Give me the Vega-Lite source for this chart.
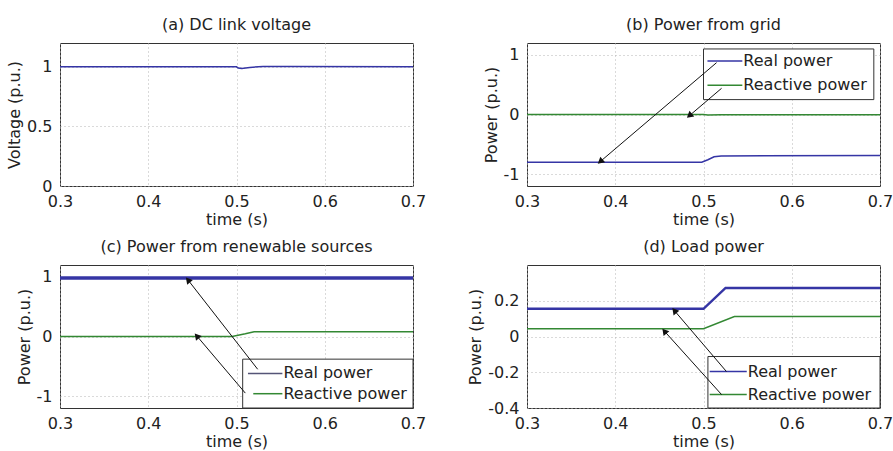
{
  "$schema": "https://vega.github.io/schema/vega-lite/v6.json",
  "background": "white",
  "padding": {"left": 6, "top": 16, "right": 0, "bottom": 0},
  "datasets": {
    "a_line": [
      {"x": 0.3, "y": 1.0}, {"x": 0.5, "y": 1.0}, {"x": 0.502, "y": 0.99}, {"x": 0.506, "y": 0.986},
      {"x": 0.515, "y": 0.995}, {"x": 0.53, "y": 1.003}, {"x": 0.56, "y": 1.002}, {"x": 0.7, "y": 1.0}
    ],
    "b_line": [
      {"s": "Real power", "x": 0.3, "y": -0.8}, {"s": "Real power", "x": 0.498, "y": -0.8},
      {"s": "Real power", "x": 0.505, "y": -0.76}, {"s": "Real power", "x": 0.512, "y": -0.71},
      {"s": "Real power", "x": 0.52, "y": -0.695}, {"s": "Real power", "x": 0.7, "y": -0.69},
      {"s": "Reactive power", "x": 0.3, "y": 0.0}, {"s": "Reactive power", "x": 0.5, "y": 0.0},
      {"s": "Reactive power", "x": 0.505, "y": -0.01}, {"s": "Reactive power", "x": 0.52, "y": -0.005},
      {"s": "Reactive power", "x": 0.7, "y": -0.005}
    ],
    "b_box": [{"x": 0.5, "x2": 0.693, "y": 1.1, "y2": 0.25}],
    "b_leg": [
      {"s": "Real power", "x": 0.5045, "x2": 0.544, "y": 0.9},
      {"s": "Reactive power", "x": 0.5045, "x2": 0.544, "y": 0.49}
    ],
    "b_arrow": [
      {"s": "Real power", "x": 0.5148, "y": 0.87, "x2": 0.383, "y2": -0.79},
      {"s": "Reactive power", "x": 0.5205, "y": 0.44, "x2": 0.484, "y2": -0.02}
    ],
    "c_line": [
      {"s": "Real power", "x": 0.3, "y": 0.98}, {"s": "Real power", "x": 0.7, "y": 0.98},
      {"s": "Reactive power", "x": 0.3, "y": 0.0}, {"s": "Reactive power", "x": 0.495, "y": 0.0},
      {"s": "Reactive power", "x": 0.51, "y": 0.045}, {"s": "Reactive power", "x": 0.52, "y": 0.08},
      {"s": "Reactive power", "x": 0.7, "y": 0.08}
    ],
    "c_box": [{"x": 0.507, "x2": 0.7, "y": -0.38, "y2": -1.2}],
    "c_leg": [
      {"s": "Real power", "x": 0.513, "x2": 0.552, "y": -0.62},
      {"s": "Reactive power", "x": 0.519, "x2": 0.552, "y": -0.96}
    ],
    "c_arrow": [
      {"s": "Real power", "x": 0.524, "y": -0.55, "x2": 0.445, "y2": 0.95},
      {"s": "Reactive power", "x": 0.51, "y": -0.95, "x2": 0.455, "y2": 0.01}
    ],
    "d_line": [
      {"s": "Real power", "x": 0.3, "y": 0.155}, {"s": "Real power", "x": 0.5, "y": 0.155},
      {"s": "Real power", "x": 0.525, "y": 0.272}, {"s": "Real power", "x": 0.7, "y": 0.272},
      {"s": "Reactive power", "x": 0.3, "y": 0.043}, {"s": "Reactive power", "x": 0.5, "y": 0.043},
      {"s": "Reactive power", "x": 0.535, "y": 0.112}, {"s": "Reactive power", "x": 0.7, "y": 0.112}
    ],
    "d_box": [{"x": 0.505, "x2": 0.7, "y": -0.112, "y2": -0.4}],
    "d_leg": [
      {"s": "Real power", "x": 0.507, "x2": 0.549, "y": -0.196},
      {"s": "Reactive power", "x": 0.507, "x2": 0.549, "y": -0.325}
    ],
    "d_arrow": [
      {"s": "Real power", "x": 0.526, "y": -0.196, "x2": 0.467, "y2": 0.145},
      {"s": "Reactive power", "x": 0.5205, "y": -0.325, "x2": 0.4557, "y2": 0.03}
    ]
  },
  "columns": 2,
  "spacing": {"row": 79, "column": 114},
  "bounds": "flush",
  "concat": [
    {
      "title": "(a) DC link voltage",
      "width": 353, "height": 143,
      "data": {"name": "a_line"},
      "mark": {"type": "line", "color": "#3535a5", "strokeWidth": 1.5},
      "encoding": {
        "x": {"field": "x", "type": "quantitative", "scale": {"domain": [0.3, 0.7], "nice": false, "zero": false}, "axis": {"values": [0.3, 0.4, 0.5, 0.6, 0.7], "title": "time (s)"}},
        "y": {"field": "y", "type": "quantitative", "scale": {"domain": [0, 1.2], "nice": false}, "axis": {"values": [0, 0.5, 1], "title": "Voltage (p.u.)"}}
      }
    },
    {
      "title": "(b) Power from grid",
      "width": 353, "height": 143,
      "encoding": {
        "x": {"field": "x", "type": "quantitative", "scale": {"domain": [0.3, 0.7], "nice": false, "zero": false}, "axis": {"values": [0.3, 0.4, 0.5, 0.6, 0.7], "title": "time (s)"}},
        "y": {"field": "y", "type": "quantitative", "scale": {"domain": [-1.2, 1.2], "nice": false}, "axis": {"values": [-1, 0, 1], "title": "Power (p.u.)"}}
      },
      "layer": [
        {"data": {"name": "b_line"}, "transform": [{"filter": "datum.s == 'Reactive power'"}], "mark": {"type": "line", "color": "#338833", "strokeWidth": 1.5}},
        {"data": {"name": "b_line"}, "transform": [{"filter": "datum.s == 'Real power'"}], "mark": {"type": "line", "color": "#3535a5", "strokeWidth": 1.5}},
        {"data": {"name": "b_box"}, "mark": {"type": "rect", "fill": "white", "stroke": "#333", "strokeWidth": 1}, "encoding": {"x2": {"field": "x2"}, "y2": {"field": "y2"}}},
        {"data": {"name": "b_leg"}, "mark": {"type": "rule", "strokeWidth": 1.5}, "encoding": {"x2": {"field": "x2"}, "color": {"field": "s", "type": "nominal", "scale": {"domain": ["Real power", "Reactive power"], "range": ["#3535a5", "#338833"]}, "legend": null}}},
        {"data": {"name": "b_leg"}, "mark": {"type": "text", "align": "left", "baseline": "middle", "dx": 1, "fontSize": 16, "color": "#222"}, "encoding": {"x": {"field": "x2", "type": "quantitative", "title": "time (s)"}, "text": {"field": "s"}}},
        {"data": {"name": "b_arrow"}, "mark": {"type": "rule", "color": "#111", "strokeWidth": 1}, "encoding": {"x2": {"field": "x2"}, "y2": {"field": "y2"}}},
        {"data": {"name": "b_arrow"}, "mark": {"type": "point", "shape": "triangle-up", "filled": true, "color": "#111", "size": 55, "angle": 230, "opacity": 1}, "encoding": {"x": {"field": "x2", "type": "quantitative", "title": "time (s)"}, "y": {"field": "y2", "type": "quantitative", "title": "Power (p.u.)"}}}
      ]
    },
    {
      "title": "(c) Power from renewable sources",
      "width": 353, "height": 143,
      "encoding": {
        "x": {"field": "x", "type": "quantitative", "scale": {"domain": [0.3, 0.7], "nice": false, "zero": false}, "axis": {"values": [0.3, 0.4, 0.5, 0.6, 0.7], "title": "time (s)"}},
        "y": {"field": "y", "type": "quantitative", "scale": {"domain": [-1.2, 1.2], "nice": false}, "axis": {"values": [-1, 0, 1], "title": "Power (p.u.)"}}
      },
      "layer": [
        {"data": {"name": "c_line"}, "transform": [{"filter": "datum.s == 'Reactive power'"}], "mark": {"type": "line", "color": "#338833", "strokeWidth": 1.5}},
        {"data": {"name": "c_line"}, "transform": [{"filter": "datum.s == 'Real power'"}], "mark": {"type": "line", "color": "#3535a5", "strokeWidth": 3.5}},
        {"data": {"name": "c_box"}, "mark": {"type": "rect", "fill": "white", "stroke": "#333", "strokeWidth": 1}, "encoding": {"x2": {"field": "x2"}, "y2": {"field": "y2"}}},
        {"data": {"name": "c_leg"}, "mark": {"type": "rule", "strokeWidth": 1.5}, "encoding": {"x2": {"field": "x2"}, "color": {"field": "s", "type": "nominal", "scale": {"domain": ["Real power", "Reactive power"], "range": ["#555577", "#338833"]}, "legend": null}}},
        {"data": {"name": "c_leg"}, "mark": {"type": "text", "align": "left", "baseline": "middle", "dx": 1, "fontSize": 16, "color": "#222"}, "encoding": {"x": {"field": "x2", "type": "quantitative", "title": "time (s)"}, "text": {"field": "s"}}},
        {"data": {"name": "c_arrow"}, "mark": {"type": "rule", "color": "#111", "strokeWidth": 1}, "encoding": {"x2": {"field": "x2"}, "y2": {"field": "y2"}}},
        {"data": {"name": "c_arrow"}, "mark": {"type": "point", "shape": "triangle-up", "filled": true, "color": "#111", "size": 55, "angle": 320, "opacity": 1}, "encoding": {"x": {"field": "x2", "type": "quantitative", "title": "time (s)"}, "y": {"field": "y2", "type": "quantitative", "title": "Power (p.u.)"}}}
      ]
    },
    {
      "title": "(d) Load power",
      "width": 353, "height": 143,
      "encoding": {
        "x": {"field": "x", "type": "quantitative", "scale": {"domain": [0.3, 0.7], "nice": false, "zero": false}, "axis": {"values": [0.3, 0.4, 0.5, 0.6, 0.7], "title": "time (s)"}},
        "y": {"field": "y", "type": "quantitative", "scale": {"domain": [-0.4, 0.4], "nice": false}, "axis": {"values": [-0.4, -0.2, 0, 0.2], "title": "Power (p.u.)"}}
      },
      "layer": [
        {"data": {"name": "d_line"}, "transform": [{"filter": "datum.s == 'Reactive power'"}], "mark": {"type": "line", "color": "#338833", "strokeWidth": 1.5}},
        {"data": {"name": "d_line"}, "transform": [{"filter": "datum.s == 'Real power'"}], "mark": {"type": "line", "color": "#3535a5", "strokeWidth": 2.5}},
        {"data": {"name": "d_box"}, "mark": {"type": "rect", "fill": "white", "stroke": "#333", "strokeWidth": 1}, "encoding": {"x2": {"field": "x2"}, "y2": {"field": "y2"}}},
        {"data": {"name": "d_leg"}, "mark": {"type": "rule", "strokeWidth": 1.5}, "encoding": {"x2": {"field": "x2"}, "color": {"field": "s", "type": "nominal", "scale": {"domain": ["Real power", "Reactive power"], "range": ["#3535a5", "#338833"]}, "legend": null}}},
        {"data": {"name": "d_leg"}, "mark": {"type": "text", "align": "left", "baseline": "middle", "dx": 1, "fontSize": 16, "color": "#222"}, "encoding": {"x": {"field": "x2", "type": "quantitative", "title": "time (s)"}, "text": {"field": "s"}}},
        {"data": {"name": "d_arrow"}, "mark": {"type": "rule", "color": "#111", "strokeWidth": 1}, "encoding": {"x2": {"field": "x2"}, "y2": {"field": "y2"}}},
        {"data": {"name": "d_arrow"}, "mark": {"type": "point", "shape": "triangle-up", "filled": true, "color": "#111", "size": 55, "angle": 320, "opacity": 1}, "encoding": {"x": {"field": "x2", "type": "quantitative", "title": "time (s)"}, "y": {"field": "y2", "type": "quantitative", "title": "Power (p.u.)"}}}
      ]
    }
  ],
  "resolve": {"scale": {"color": "independent"}},
  "config": {
    "font": "DejaVu Sans",
    "text": {"font": "DejaVu Sans"},
    "view": {"stroke": "#333", "strokeWidth": 1},
    "axis": {
      "grid": true, "gridColor": "#b5b5b5", "gridDash": [1, 3], "gridWidth": 1,
      "domain": false, "ticks": false,
      "labelFont": "DejaVu Sans", "titleFont": "DejaVu Sans",
      "labelFontSize": 16, "titleFontSize": 16, "titleFontWeight": "normal",
      "labelColor": "#222", "titleColor": "#222",
      "labelFlush": false, "labelOverlap": false,
      "labelExpr": "'' + datum.value"
    },
    "axisX": {"labelPadding": 7, "titlePadding": 2},
    "axisY": {"labelPadding": 8, "titlePadding": 4},
    "title": {"fontSize": 16, "fontWeight": "normal", "color": "#222", "offset": 10, "font": "DejaVu Sans", "anchor": "middle"}
  }
}
